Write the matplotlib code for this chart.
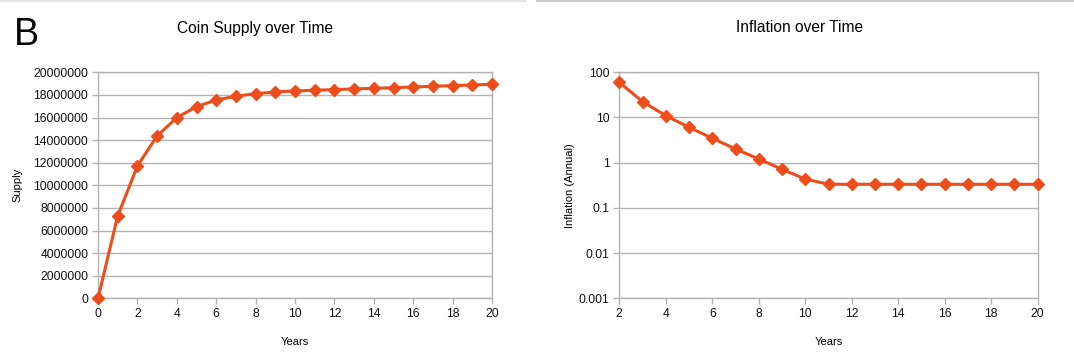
import matplotlib.pyplot as plt
from matplotlib.lines import Line2D
from matplotlib.ticker import FuncFormatter, FixedLocator, NullLocator

plt.rcParams['font.family'] = ['Liberation Sans', 'DejaVu Sans']

# data
supply_years = list(range(0, 21))
supply = [0, 7290000, 11710000, 14370000, 15990000, 16960000, 17550000, 17880000,
          18110000, 18260000, 18350000, 18410000, 18470000, 18530000, 18580000,
          18640000, 18700000, 18760000, 18820000, 18880000, 18940000]

infl_years = list(range(2, 21))
inflation = [60.0, 22.4, 11.0, 6.07, 3.47, 2.01, 1.21, 0.714, 0.436,
             0.333, 0.333, 0.333, 0.333, 0.333, 0.333, 0.333, 0.333, 0.333, 0.333]

line_col = '#ec4d1b'
grid_col = '#b3b3b3'

fig = plt.figure(figsize=(10.74, 3.56), dpi=100)

ax1 = fig.add_axes([98 / 1074, 1 - 298.3 / 356, 394 / 1074, 226 / 356])
ax2 = fig.add_axes([619.3 / 1074, 1 - 298.3 / 356, 418.4 / 1074, 226 / 356])


def style(ax):
    ax.set_facecolor('white')
    for s in ax.spines.values():
        s.set_color(grid_col)
        s.set_linewidth(1.0)
    ax.grid(axis='y', color=grid_col, linewidth=1.0)
    ax.set_axisbelow(True)
    ax.tick_params(axis='both', which='major', length=4, width=1.0, color=grid_col,
                   labelsize=8.7, pad=3, labelcolor='#111111')
    ax.tick_params(axis='y', which='minor', length=0)


ax1.plot(supply_years, supply, color=line_col, linewidth=2.2, marker='D',
         markersize=6, clip_on=False, zorder=3)
ax1.set_xlim(0, 20)
ax1.set_ylim(0, 20000000)
ax1.set_xticks(range(0, 21, 2))
ax1.set_yticks(range(0, 20000001, 2000000))
ax1.yaxis.set_major_formatter(FuncFormatter(lambda v, p: '%d' % v))
style(ax1)
ax1.set_xlabel('Years', fontsize=8, labelpad=12)
ax1.set_ylabel('Supply', fontsize=8, labelpad=8)

ax2.plot(infl_years, inflation, color=line_col, linewidth=2.2, marker='D',
         markersize=6, clip_on=False, zorder=3)
ax2.set_yscale('log')
ax2.set_xlim(2, 20)
ax2.set_ylim(0.001, 100)
ax2.set_xticks(range(2, 21, 2))
ax2.yaxis.set_major_locator(FixedLocator([0.001, 0.01, 0.1, 1, 10, 100]))
ax2.yaxis.set_minor_locator(NullLocator())
ax2.yaxis.set_major_formatter(FuncFormatter(lambda v, p: '%g' % v))
style(ax2)
ax2.set_xlabel('Years', fontsize=8, labelpad=12)
ax2.set_ylabel('Inflation (Annual)', fontsize=8, labelpad=3)

fig.text(255 / 1074, 1 - 28 / 356, 'Coin Supply over Time', fontsize=11.2,
         ha='center', va='center')
fig.text(800 / 1074, 1 - 28 / 356, 'Inflation over Time', fontsize=11.2,
         ha='center', va='center')
fig.text(14 / 1074, 1 - 45 / 356, 'B', fontsize=27, ha='left', va='baseline')

# faint screenshot border at the top
fig.add_artist(Line2D([0, 0.49], [0.997, 0.997], color='#e6e6e6', linewidth=1.5))
fig.add_artist(Line2D([0.5, 1], [0.997, 0.997], color='#cccccc', linewidth=1.5))

fig.savefig('out.png', dpi=100, facecolor='white')
